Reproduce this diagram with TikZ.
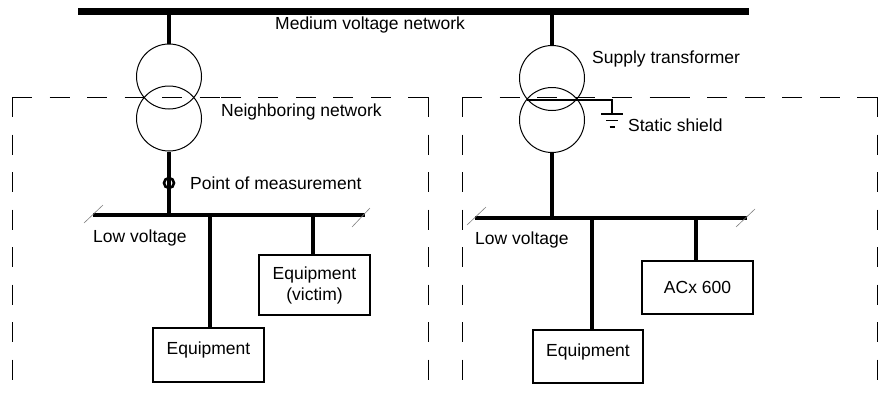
\documentclass[tikz,border=0pt]{standalone}
\usepackage{fontspec}
\setmainfont{Liberation Sans}
\begin{document}
\begin{tikzpicture}[x=1pt,y=-1pt,
 lbl/.style={font=\fontsize{17.5}{21}\selectfont, inner sep=0, anchor=west},
 eqbox/.style={draw, line width=1.3pt, font=\fontsize{17.5}{21}\selectfont, align=center, inner sep=0},
 bus/.style={line width=4.5pt},
 mvbus/.style={line width=7.3pt},
 trafo/.style={draw, circle, line width=1pt, minimum size=65pt, inner sep=0},
 dashbox/.style={line width=1pt, dash pattern=on 20pt off 17.5pt},
 brk/.style={gray, line width=0.6pt},
 thinw/.style={line width=1.4pt}]
\useasboundingbox (0,0) rectangle (878,392);

% dashed zones
\draw[dashbox] (12,97) -- (12,392);
\draw[dashbox] (12,97) -- (220,97);
\draw[dashbox] (428,97) -- (220,97);
\draw[dashbox] (428,97) -- (428,392);
\draw[dashbox] (462,97) -- (462,392);
\draw[dashbox] (462,97) -- (670,97);
\draw[dashbox] (877,97) -- (670,97);
\draw[dashbox] (877,97) -- (877,392);

% medium voltage bus
\coordinate (mvL) at (78,11.5);
\coordinate (mvR) at (749,11.5);
\coordinate (j1) at (169,11.5);
\coordinate (j2) at (552,11.5);
\draw[mvbus] (mvL) -- (mvR);
\node[lbl] (mvlbl) at (275,25) {Medium voltage network};

% left transformer
\node[trafo] (t1a) at (169,76.5) {};
\node[trafo] (t1b) at (169,118.5) {};
\draw[bus] (j1) -- (t1a.north);
\node[lbl] (nnlbl) at (221,112) {Neighboring network};

% left low voltage bus
\coordinate (lvL1) at (93,215);
\coordinate (lvL2) at (365,215);
\coordinate (k1) at (169,215);
\coordinate (k2) at (210,215);
\coordinate (k3) at (313,215);
\draw[bus] (lvL1) -- (lvL2);
\draw[brk] (84,223) -- (103,205);
\draw[brk] (352,227) -- (370,208);
\draw[bus] (t1b.south) -- (k1);
\node[draw, circle, line width=2.6pt, minimum size=10pt, inner sep=0] (pm) at (169,183) {};
\node[lbl] (pmlbl) at (190,183) {Point of measurement};
\node[lbl] (lv1lbl) at (93,238) {Low voltage};

\node[eqbox, minimum width=111pt, minimum height=54pt] (eq1) at (208.5,355) {\raisebox{5pt}[\height][\depth]{Equipment}};
\node[eqbox, minimum width=111pt, minimum height=60pt] (vic) at (314.5,285) {Equipment\\(victim)};
\draw[bus] (k2) -- (eq1.north -| k2);
\draw[bus] (k3) -- (vic.north -| k3);

% right transformer
\node[trafo] (t2a) at (552,78) {};
\node[trafo] (t2b) at (552,120) {};
\draw[bus] (j2) -- (t2a.north);
\node[lbl] (stlbl) at (592,59) {Supply transformer};

% static shield
\coordinate (s1) at (526.5,100);
\coordinate (s2) at (612,100);
\coordinate (g) at (612,114);
\draw[thinw] (s1) -- (s2) -- (g);
\draw[thinw] (601,114) -- (623,114);
\draw[thinw] (606,120.5) -- (618,120.5);
\draw[thinw] (609.5,127) -- (614.5,127);
\node[lbl] (sslbl) at (628,125) {Static shield};

% right low voltage bus
\coordinate (lvR1) at (475,218);
\coordinate (lvR2) at (747,218);
\coordinate (m1) at (552,218);
\coordinate (m2) at (592,218);
\coordinate (m3) at (696,218);
\draw[bus] (lvR1) -- (lvR2);
\draw[brk] (467,225) -- (486,207);
\draw[brk] (736,227) -- (755,209);
\draw[bus] (t2b.south) -- (m1);
\node[lbl] (lv2lbl) at (475,240) {Low voltage};

\node[eqbox, minimum width=110pt, minimum height=53pt] (eq2) at (588,356.5) {\raisebox{5pt}[\height][\depth]{Equipment}};
\node[eqbox, minimum width=111pt, minimum height=53pt] (acx) at (697.5,287.5) {ACx 600};
\draw[bus] (m2) -- (eq2.north -| m2);
\draw[bus] (m3) -- (acx.north -| m3);
\end{tikzpicture}
\end{document}
